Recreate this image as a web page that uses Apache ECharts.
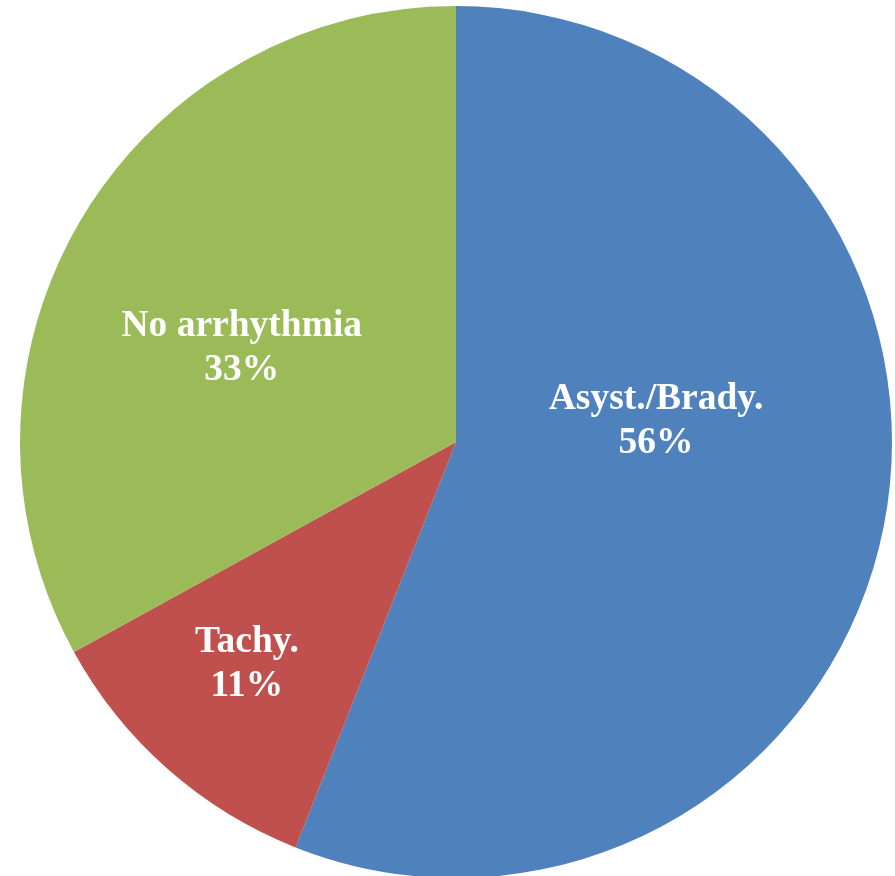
<!DOCTYPE html>
<html>
<head>
<meta charset="utf-8">
<script src="https://cdn.jsdelivr.net/npm/echarts@6/dist/echarts.min.js"></script>
<style>
html,body{margin:0;padding:0;background:#fff;}
#chart{width:895px;height:876px;}
</style>
</head>
<body>
<div id="chart"></div>
<script>
// Data
const categories = ['Asyst./Brady.', 'Tachy.', 'No arrhythmia'];
const values = [56, 11, 33];

// Styles (not data)
const colors = ['#4F81BD', '#C0504D', '#9BBB59'];
const labelOffsets = [[-17, -62], [-63, 57], [-24, 19]];

const chart = echarts.init(document.getElementById('chart'), null, {renderer: 'canvas'});
const option = {
  animation: false,
  backgroundColor: '#ffffff',
  series: [{
    type: 'pie',
    center: [456, 442],
    radius: [0, 436],
    startAngle: 90,
    clockwise: true,
    avoidLabelOverlap: false,
    label: {
      show: true,
      position: 'inside',
      formatter: '{b}\n{d}%',
      color: '#ffffff',
      fontFamily: '"Liberation Serif", "Times New Roman", serif',
      fontWeight: 'bold',
      fontSize: 37.5,
      lineHeight: 44,
      align: 'center'
    },
    labelLine: {show: false},
    emphasis: {disabled: true},
    itemStyle: {borderWidth: 0},
    data: categories.map((c, i) => ({
      name: c,
      value: values[i],
      itemStyle: {color: colors[i]},
      label: {offset: labelOffsets[i]}
    }))
  }]
};
chart.setOption(option);
</script>
</body>
</html>
